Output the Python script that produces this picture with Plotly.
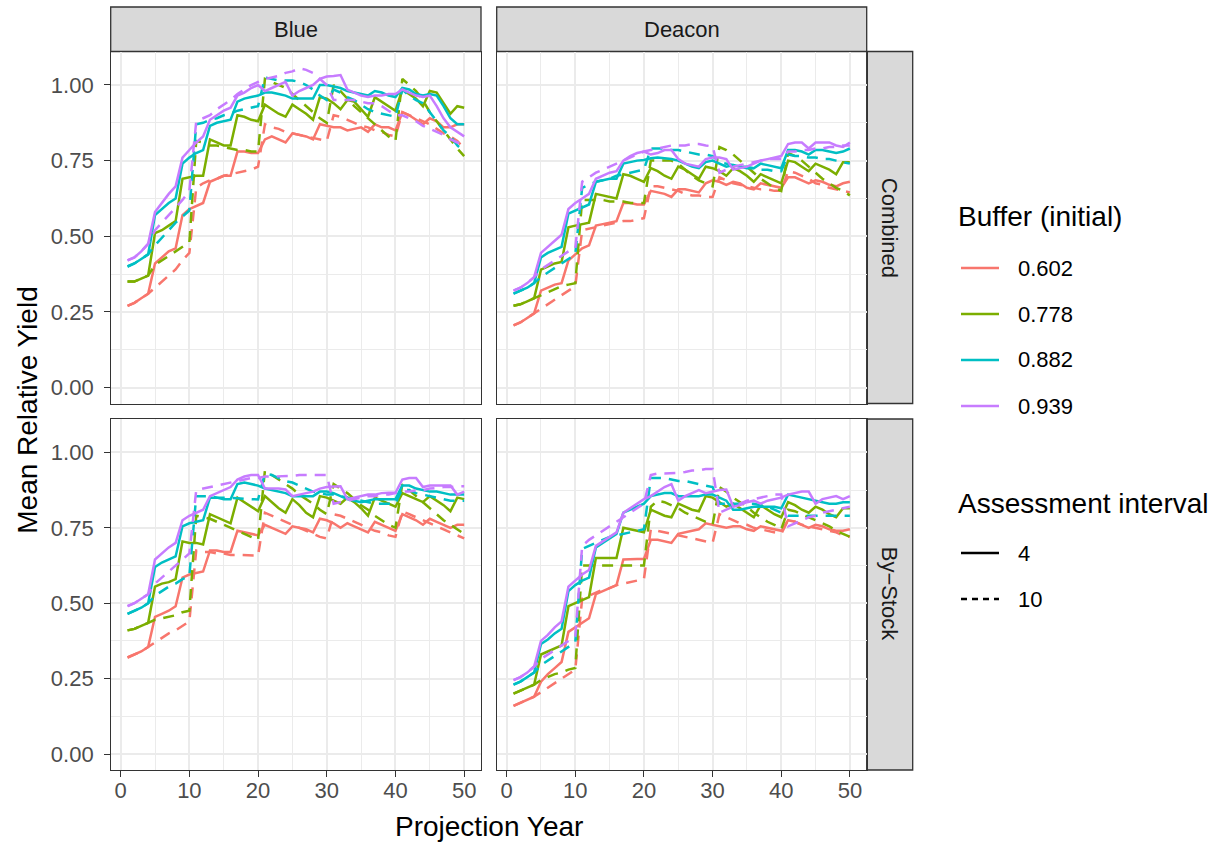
import plotly.graph_objects as go

W, H = 1228, 843

years = list(range(1, 51))
buffers = ["0.602", "0.778", "0.882", "0.939"]
colors = ["#F8766D", "#7CAE00", "#00BFC4", "#C77CFF"]
intervals = ["4", "10"]
stocks = ["Blue", "Deacon"]
methods = ["Combined", "By\u2212Stock"]
x_ticks = [0, 10, 20, 30, 40, 50]
y_ticks = [0.0, 0.25, 0.5, 0.75, 1.0]
y_tick_labels = ["0.00", "0.25", "0.50", "0.75", "1.00"]

# ---------------- Blue / Combined ----------------
bc_602_i4 = [0.27,0.28,0.295,0.31,0.41,0.43,0.45,0.46,0.57,0.59,
             0.60,0.61,0.68,0.69,0.70,0.70,0.78,0.78,0.775,0.775,
             0.82,0.83,0.82,0.81,0.84,0.835,0.83,0.82,0.87,0.865,
             0.86,0.86,0.85,0.855,0.86,0.845,0.87,0.86,0.86,0.85,
             0.91,0.90,0.885,0.87,0.89,0.88,0.86,0.86,0.87,0.87]
bc_602_i10 = [0.27,0.28,0.295,0.31,0.33,0.35,0.37,0.39,0.42,0.445,
              0.66,0.675,0.685,0.69,0.70,0.705,0.71,0.715,0.72,0.73,
              0.87,0.86,0.855,0.845,0.84,0.835,0.83,0.825,0.82,0.815,
              0.90,0.895,0.885,0.875,0.865,0.86,0.85,0.845,0.835,0.83,
              0.91,0.90,0.89,0.88,0.87,0.855,0.84,0.83,0.815,0.79]
bc_778_i4 = [0.35,0.35,0.36,0.37,0.51,0.52,0.535,0.55,0.69,0.695,
             0.70,0.70,0.82,0.81,0.80,0.80,0.90,0.895,0.885,0.88,
             0.935,0.92,0.905,0.895,0.935,0.92,0.905,0.885,0.96,0.955,
             0.94,0.92,0.95,0.945,0.92,0.895,0.96,0.945,0.93,0.915,
             0.985,0.97,0.955,0.93,0.98,0.975,0.94,0.905,0.93,0.925]
bc_778_i10 = [0.35,0.35,0.36,0.37,0.405,0.42,0.435,0.45,0.465,0.48,
              0.815,0.81,0.80,0.80,0.795,0.79,0.785,0.785,0.78,0.78,
              1.02,1.01,1.0,0.99,0.97,0.95,0.93,0.91,0.89,0.875,
              1.0,0.98,0.955,0.93,0.91,0.89,0.87,0.85,0.83,0.815,
              1.02,1.0,0.98,0.95,0.91,0.88,0.85,0.82,0.79,0.765]
bc_882_i4 = [0.40,0.41,0.425,0.44,0.57,0.59,0.61,0.625,0.74,0.76,
             0.775,0.785,0.865,0.875,0.88,0.885,0.945,0.955,0.96,0.965,
             0.975,0.975,0.97,0.965,0.955,0.955,0.955,0.955,1.0,1.0,
             0.995,0.99,0.98,0.975,0.97,0.965,0.98,0.975,0.965,0.96,
             0.99,0.985,0.97,0.965,0.97,0.965,0.93,0.89,0.87,0.87]
bc_882_i10 = [0.40,0.41,0.425,0.44,0.47,0.495,0.52,0.545,0.565,0.585,
              0.87,0.875,0.885,0.89,0.90,0.905,0.915,0.92,0.925,0.93,
              1.025,1.02,1.015,1.015,1.015,1.01,1.0,0.985,0.965,0.95,
              0.985,0.975,0.96,0.95,0.935,0.92,0.91,0.905,0.90,0.895,
              0.985,0.965,0.95,0.94,0.91,0.88,0.85,0.83,0.80,0.78]
bc_939_i4 = [0.42,0.43,0.45,0.475,0.58,0.61,0.64,0.665,0.76,0.785,
             0.81,0.83,0.885,0.90,0.915,0.925,0.965,0.975,0.99,1.0,
             0.98,0.99,1.0,1.01,0.965,0.98,0.99,1.0,1.02,1.028,
             1.03,1.033,0.985,0.975,0.965,0.96,0.965,0.965,0.97,0.97,
             0.985,0.975,0.965,0.96,0.965,0.93,0.89,0.86,0.845,0.83]
bc_939_i10 = [0.42,0.43,0.45,0.475,0.52,0.545,0.57,0.595,0.62,0.65,
              0.88,0.89,0.90,0.92,0.935,0.95,0.97,0.985,1.0,1.01,
              1.02,1.025,1.03,1.04,1.045,1.055,1.05,1.04,1.02,1.0,
              0.95,0.95,0.95,0.95,0.945,0.94,0.94,0.93,0.915,0.90,
              0.90,0.89,0.88,0.865,0.855,0.845,0.835,0.82,0.81,0.80]

# ---------------- Deacon / Combined ----------------
dc_602_i4 = [0.205,0.215,0.23,0.245,0.32,0.33,0.34,0.345,0.42,0.44,
             0.46,0.47,0.535,0.54,0.545,0.55,0.61,0.61,0.605,0.605,
             0.65,0.645,0.64,0.63,0.655,0.655,0.65,0.645,0.675,0.685,
             0.68,0.67,0.68,0.675,0.66,0.655,0.675,0.67,0.665,0.66,
             0.695,0.695,0.685,0.675,0.685,0.68,0.67,0.665,0.675,0.68]
dc_602_i10 = [0.205,0.215,0.23,0.245,0.26,0.275,0.29,0.305,0.32,0.335,
              0.52,0.525,0.53,0.535,0.54,0.545,0.55,0.55,0.555,0.56,
              0.665,0.665,0.66,0.655,0.65,0.64,0.635,0.635,0.63,0.63,
              0.695,0.685,0.675,0.67,0.665,0.66,0.655,0.655,0.65,0.65,
              0.715,0.71,0.70,0.69,0.675,0.67,0.66,0.655,0.65,0.645]
dc_778_i4 = [0.27,0.275,0.285,0.295,0.39,0.40,0.41,0.415,0.53,0.535,
             0.54,0.545,0.64,0.635,0.63,0.625,0.705,0.70,0.69,0.68,
             0.725,0.715,0.70,0.69,0.73,0.72,0.705,0.69,0.73,0.725,
             0.715,0.70,0.725,0.715,0.70,0.68,0.705,0.695,0.685,0.675,
             0.75,0.745,0.73,0.715,0.74,0.73,0.72,0.705,0.745,0.745]
dc_778_i10 = [0.27,0.275,0.285,0.295,0.305,0.315,0.325,0.335,0.34,0.345,
              0.62,0.62,0.62,0.62,0.615,0.615,0.615,0.61,0.61,0.61,
              0.75,0.75,0.752,0.75,0.74,0.72,0.70,0.685,0.675,0.665,
              0.795,0.785,0.77,0.75,0.73,0.71,0.69,0.675,0.66,0.65,
              0.775,0.765,0.75,0.73,0.71,0.69,0.675,0.66,0.65,0.635]
dc_882_i4 = [0.31,0.32,0.33,0.345,0.43,0.445,0.455,0.465,0.575,0.585,
             0.595,0.605,0.68,0.685,0.69,0.69,0.74,0.745,0.75,0.752,
             0.758,0.76,0.758,0.755,0.75,0.74,0.73,0.725,0.745,0.75,
             0.74,0.73,0.735,0.73,0.725,0.725,0.74,0.735,0.73,0.725,
             0.785,0.785,0.78,0.77,0.785,0.785,0.78,0.775,0.78,0.79]
dc_882_i10 = [0.31,0.32,0.33,0.345,0.365,0.38,0.395,0.41,0.425,0.44,
              0.66,0.67,0.68,0.685,0.69,0.70,0.705,0.71,0.715,0.72,
              0.79,0.79,0.79,0.785,0.785,0.78,0.775,0.77,0.77,0.765,
              0.745,0.74,0.735,0.73,0.73,0.725,0.72,0.72,0.715,0.715,
              0.77,0.765,0.765,0.76,0.76,0.755,0.755,0.75,0.745,0.74]
dc_939_i4 = [0.32,0.33,0.345,0.365,0.445,0.465,0.485,0.505,0.59,0.61,
             0.625,0.64,0.69,0.70,0.71,0.715,0.75,0.765,0.775,0.78,
             0.77,0.775,0.785,0.785,0.755,0.74,0.735,0.73,0.755,0.76,
             0.76,0.755,0.72,0.725,0.73,0.74,0.75,0.755,0.76,0.765,
             0.805,0.81,0.81,0.79,0.81,0.81,0.81,0.80,0.795,0.81]
dc_939_i10 = [0.32,0.33,0.345,0.365,0.39,0.405,0.42,0.435,0.45,0.46,
              0.68,0.695,0.71,0.72,0.73,0.74,0.75,0.76,0.77,0.78,
              0.785,0.79,0.795,0.80,0.80,0.80,0.805,0.805,0.80,0.797,
              0.71,0.72,0.73,0.735,0.74,0.745,0.75,0.755,0.755,0.755,
              0.78,0.78,0.785,0.785,0.79,0.79,0.795,0.795,0.80,0.80]

# ---------------- Blue / By-Stock ----------------
bs_602_i4 = [0.32,0.33,0.34,0.355,0.455,0.465,0.475,0.49,0.585,0.595,
             0.60,0.605,0.675,0.675,0.67,0.67,0.74,0.735,0.73,0.725,
             0.76,0.75,0.74,0.73,0.755,0.75,0.745,0.735,0.78,0.775,
             0.765,0.75,0.765,0.755,0.745,0.735,0.77,0.76,0.75,0.74,
             0.795,0.785,0.775,0.76,0.78,0.77,0.76,0.75,0.76,0.76]
bs_602_i10 = [0.32,0.33,0.34,0.355,0.37,0.385,0.40,0.41,0.425,0.44,
              0.675,0.67,0.67,0.665,0.665,0.66,0.66,0.66,0.66,0.658,
              0.80,0.79,0.78,0.77,0.76,0.75,0.74,0.73,0.72,0.715,
              0.795,0.79,0.78,0.77,0.76,0.75,0.74,0.735,0.725,0.72,
              0.805,0.795,0.785,0.775,0.765,0.755,0.745,0.735,0.725,0.715]
bs_778_i4 = [0.41,0.415,0.425,0.435,0.555,0.565,0.57,0.58,0.705,0.70,
             0.70,0.695,0.795,0.785,0.775,0.765,0.85,0.835,0.82,0.805,
             0.855,0.835,0.815,0.80,0.845,0.825,0.80,0.785,0.855,0.85,
             0.84,0.83,0.85,0.835,0.815,0.79,0.85,0.84,0.83,0.82,
             0.865,0.855,0.845,0.835,0.855,0.84,0.825,0.805,0.85,0.845]
bs_778_i10 = [0.41,0.415,0.425,0.435,0.445,0.45,0.455,0.46,0.47,0.475,
              0.79,0.785,0.78,0.77,0.76,0.75,0.74,0.73,0.72,0.71,
              0.94,0.925,0.91,0.895,0.88,0.86,0.845,0.83,0.81,0.795,
              0.895,0.88,0.865,0.845,0.825,0.81,0.79,0.775,0.76,0.75,
              0.895,0.875,0.855,0.835,0.815,0.795,0.775,0.76,0.745,0.73]
bs_882_i4 = [0.465,0.475,0.485,0.50,0.62,0.635,0.645,0.655,0.755,0.765,
             0.77,0.775,0.85,0.85,0.845,0.845,0.895,0.90,0.895,0.89,
             0.88,0.875,0.87,0.865,0.855,0.855,0.855,0.855,0.87,0.87,
             0.865,0.855,0.845,0.84,0.835,0.84,0.845,0.845,0.845,0.845,
             0.89,0.89,0.88,0.875,0.87,0.87,0.865,0.86,0.86,0.86]
bs_882_i10 = [0.465,0.475,0.485,0.50,0.525,0.54,0.555,0.565,0.58,0.59,
              0.855,0.855,0.855,0.85,0.85,0.85,0.848,0.846,0.845,0.844,
              0.93,0.925,0.915,0.905,0.90,0.89,0.88,0.87,0.865,0.86,
              0.86,0.855,0.85,0.845,0.84,0.835,0.83,0.83,0.83,0.83,
              0.88,0.875,0.865,0.86,0.855,0.85,0.845,0.84,0.84,0.84]
bs_939_i4 = [0.49,0.50,0.515,0.53,0.645,0.665,0.685,0.70,0.775,0.79,
             0.80,0.81,0.855,0.865,0.875,0.885,0.91,0.92,0.925,0.925,
             0.88,0.88,0.88,0.877,0.855,0.86,0.865,0.87,0.88,0.885,
             0.887,0.888,0.845,0.85,0.855,0.86,0.86,0.865,0.866,0.866,
             0.91,0.915,0.915,0.885,0.89,0.89,0.89,0.89,0.86,0.87]
bs_939_i10 = [0.49,0.50,0.515,0.53,0.565,0.585,0.605,0.625,0.645,0.665,
              0.875,0.88,0.885,0.89,0.895,0.90,0.905,0.91,0.915,0.915,
              0.92,0.92,0.92,0.92,0.922,0.925,0.925,0.925,0.925,0.925,
              0.83,0.835,0.84,0.845,0.85,0.855,0.855,0.86,0.86,0.865,
              0.87,0.87,0.875,0.875,0.88,0.882,0.885,0.885,0.888,0.888]

# ---------------- Deacon / By-Stock ----------------
ds_602_i4 = [0.16,0.17,0.18,0.19,0.24,0.265,0.285,0.305,0.405,0.42,
             0.435,0.45,0.53,0.54,0.55,0.56,0.645,0.647,0.647,0.647,
             0.71,0.71,0.705,0.70,0.73,0.735,0.74,0.745,0.765,0.76,
             0.755,0.75,0.755,0.755,0.745,0.74,0.755,0.75,0.745,0.74,
             0.775,0.77,0.76,0.75,0.76,0.755,0.745,0.74,0.74,0.745]
ds_602_i10 = [0.16,0.17,0.18,0.19,0.205,0.22,0.235,0.25,0.265,0.28,
              0.515,0.525,0.535,0.545,0.55,0.56,0.565,0.57,0.575,0.58,
              0.745,0.74,0.735,0.73,0.725,0.72,0.715,0.71,0.705,0.70,
              0.795,0.785,0.775,0.765,0.76,0.75,0.745,0.74,0.735,0.73,
              0.775,0.77,0.76,0.755,0.75,0.745,0.74,0.735,0.725,0.72]
ds_778_i4 = [0.20,0.21,0.22,0.23,0.33,0.34,0.35,0.36,0.49,0.50,
             0.51,0.52,0.65,0.65,0.65,0.65,0.75,0.745,0.74,0.735,
             0.81,0.80,0.79,0.785,0.83,0.82,0.81,0.805,0.855,0.85,
             0.835,0.82,0.83,0.815,0.80,0.785,0.825,0.81,0.795,0.785,
             0.835,0.825,0.81,0.80,0.82,0.81,0.795,0.785,0.815,0.815]
ds_778_i10 = [0.20,0.21,0.22,0.23,0.245,0.255,0.265,0.27,0.28,0.285,
              0.625,0.625,0.625,0.625,0.625,0.625,0.625,0.625,0.625,0.625,
              0.82,0.84,0.835,0.825,0.815,0.80,0.79,0.78,0.77,0.76,
              0.885,0.87,0.85,0.835,0.82,0.80,0.785,0.77,0.76,0.745,
              0.81,0.805,0.795,0.785,0.775,0.765,0.755,0.74,0.73,0.72]
ds_882_i4 = [0.23,0.24,0.255,0.27,0.365,0.38,0.40,0.415,0.54,0.56,
             0.575,0.585,0.685,0.70,0.715,0.73,0.80,0.81,0.82,0.83,
             0.855,0.86,0.865,0.865,0.855,0.855,0.855,0.855,0.86,0.86,
             0.85,0.84,0.81,0.81,0.815,0.82,0.82,0.82,0.82,0.815,
             0.86,0.855,0.85,0.845,0.84,0.835,0.83,0.83,0.835,0.835]
ds_882_i10 = [0.23,0.24,0.255,0.27,0.295,0.31,0.325,0.34,0.355,0.37,
              0.68,0.69,0.70,0.71,0.72,0.725,0.73,0.735,0.74,0.745,
              0.915,0.915,0.915,0.91,0.905,0.905,0.90,0.895,0.89,0.885,
              0.83,0.83,0.83,0.83,0.83,0.83,0.825,0.82,0.81,0.80,
              0.79,0.79,0.79,0.79,0.79,0.79,0.79,0.79,0.79,0.79]
ds_939_i4 = [0.245,0.255,0.27,0.29,0.375,0.395,0.42,0.44,0.555,0.575,
             0.595,0.61,0.69,0.705,0.72,0.735,0.80,0.815,0.83,0.845,
             0.855,0.87,0.885,0.895,0.84,0.855,0.865,0.875,0.865,0.87,
             0.875,0.877,0.82,0.825,0.835,0.84,0.83,0.84,0.845,0.85,
             0.86,0.865,0.87,0.87,0.83,0.845,0.85,0.855,0.845,0.855]
ds_939_i10 = [0.245,0.255,0.27,0.29,0.315,0.33,0.345,0.36,0.375,0.39,
              0.69,0.71,0.725,0.74,0.755,0.77,0.785,0.80,0.815,0.83,
              0.925,0.93,0.93,0.93,0.932,0.935,0.94,0.94,0.945,0.945,
              0.80,0.81,0.82,0.83,0.84,0.845,0.85,0.855,0.86,0.86,
              0.755,0.765,0.775,0.785,0.79,0.80,0.805,0.81,0.815,0.82]

panel_data = {
    (0, 0): [[bc_602_i4, bc_602_i10], [bc_778_i4, bc_778_i10], [bc_882_i4, bc_882_i10], [bc_939_i4, bc_939_i10]],
    (0, 1): [[dc_602_i4, dc_602_i10], [dc_778_i4, dc_778_i10], [dc_882_i4, dc_882_i10], [dc_939_i4, dc_939_i10]],
    (1, 0): [[bs_602_i4, bs_602_i10], [bs_778_i4, bs_778_i10], [bs_882_i4, bs_882_i10], [bs_939_i4, bs_939_i10]],
    (1, 1): [[ds_602_i4, ds_602_i10], [ds_778_i4, ds_778_i10], [ds_882_i4, ds_882_i10], [ds_939_i4, ds_939_i10]],
}

# ---------------- layout geometry (pixels) ----------------
FONT = "Liberation Sans, Arial, sans-serif"
col_px = [(110.7, 481.0), (496.7, 866.7)]
row_px = [(51.5, 403.5), (419.0, 770.0)]
strip_top = (7.0, 51.5)
strip_right = (866.7, 912.7)
XR = [-1.45, 52.45]
YR = [-0.0529, 1.1107]
LW = 2.5
DASH = "11px,8px"
BORDER = "#333333"


def px(x):
    return x / W


def py(y):
    return 1 - y / H


fig = go.Figure()
layout = {}
idx = 0
for r in range(2):
    for c in range(2):
        idx += 1
        sx = "" if idx == 1 else str(idx)
        xa, ya = "x" + sx, "y" + sx
        for b in range(4):
            for i in range(2):
                fig.add_trace(go.Scatter(
                    x=years, y=panel_data[(r, c)][b][i], mode="lines",
                    xaxis=xa, yaxis=ya, showlegend=False,
                    line=dict(color=colors[b], width=LW,
                              dash="solid" if i == 0 else DASH),
                    hoverinfo="skip"))
        show_x = (r == 1)
        show_y = (c == 0)
        layout["xaxis" + sx] = dict(
            domain=[px(col_px[c][0]), px(col_px[c][1])], anchor=ya,
            range=XR, tickmode="array", tickvals=x_ticks,
            ticktext=[str(t) for t in x_ticks],
            showticklabels=show_x, ticks="outside" if show_x else "",
            ticklen=5.5, tickwidth=1.2, tickcolor=BORDER,
            ticklabelstandoff=-5,
            tickfont=dict(family=FONT, size=22, color="#4D4D4D"),
            showgrid=True, gridcolor="#EBEBEB", gridwidth=1.5,
            minor=dict(tickmode="array", tickvals=[5, 15, 25, 35, 45],
                       showgrid=True, gridcolor="#EBEBEB", gridwidth=0.8),
            zeroline=False, showline=True, mirror=True,
            linecolor=BORDER, linewidth=1.3, fixedrange=True)
        layout["yaxis" + sx] = dict(
            domain=[py(row_px[r][1]), py(row_px[r][0])], anchor=xa,
            range=YR, tickmode="array", tickvals=y_ticks,
            ticktext=y_tick_labels,
            showticklabels=show_y, ticks="outside" if show_y else "",
            ticklen=5.5, tickwidth=1.2, tickcolor=BORDER,
            ticklabelstandoff=6,
            tickfont=dict(family=FONT, size=22, color="#4D4D4D"),
            showgrid=True, gridcolor="#EBEBEB", gridwidth=1.5,
            minor=dict(tickmode="array", tickvals=[0.125, 0.375, 0.625, 0.875],
                       showgrid=True, gridcolor="#EBEBEB", gridwidth=0.8),
            zeroline=False, showline=True, mirror=True,
            linecolor=BORDER, linewidth=1.3, fixedrange=True)

shapes = []
annotations = []
# top strips
for c in range(2):
    shapes.append(dict(type="rect", xref="paper", yref="paper",
                       x0=px(col_px[c][0]), x1=px(col_px[c][1]),
                       y0=py(strip_top[1]), y1=py(strip_top[0]),
                       fillcolor="#D9D9D9", line=dict(color=BORDER, width=1.3),
                       layer="below"))
    annotations.append(dict(text=stocks[c], xref="paper", yref="paper",
                            x=px((col_px[c][0] + col_px[c][1]) / 2),
                            y=py((strip_top[0] + strip_top[1]) / 2),
                            showarrow=False, xanchor="center", yanchor="middle",
                            font=dict(family=FONT, size=22, color="#1A1A1A")))
# right strips
for r in range(2):
    shapes.append(dict(type="rect", xref="paper", yref="paper",
                       x0=px(strip_right[0]), x1=px(strip_right[1]),
                       y0=py(row_px[r][1]), y1=py(row_px[r][0]),
                       fillcolor="#D9D9D9", line=dict(color=BORDER, width=1.3),
                       layer="below"))
    annotations.append(dict(text=methods[r], xref="paper", yref="paper",
                            x=px((strip_right[0] + strip_right[1]) / 2),
                            y=py((row_px[r][0] + row_px[r][1]) / 2),
                            textangle=90, showarrow=False,
                            xanchor="center", yanchor="middle",
                            font=dict(family=FONT, size=22, color="#1A1A1A")))

# axis titles
annotations.append(dict(text="Projection Year", xref="paper", yref="paper",
                        x=px((col_px[0][0] + col_px[1][1]) / 2), y=py(826),
                        showarrow=False, xanchor="center", yanchor="middle",
                        font=dict(family=FONT, size=28, color="black")))
annotations.append(dict(text="Mean Relative Yield", xref="paper", yref="paper",
                        x=px(28), y=py((row_px[0][0] + row_px[1][1]) / 2),
                        textangle=-90, showarrow=False,
                        xanchor="center", yanchor="middle",
                        font=dict(family=FONT, size=28, color="black")))

# manual legends
LEG_X = 956
KEY_X0, KEY_X1 = 961, 999
TXT_X = 1016
annotations.append(dict(text="Buffer (initial)", xref="paper", yref="paper",
                        x=px(LEG_X), y=py(217), showarrow=False,
                        xanchor="left", yanchor="middle",
                        font=dict(family=FONT, size=28, color="black")))
buf_y = [268, 314, 360, 406]
for b in range(4):
    shapes.append(dict(type="line", xref="paper", yref="paper",
                       x0=px(KEY_X0), x1=px(KEY_X1), y0=py(buf_y[b]), y1=py(buf_y[b]),
                       line=dict(color=colors[b], width=LW)))
    annotations.append(dict(text=buffers[b], xref="paper", yref="paper",
                            x=px(TXT_X), y=py(buf_y[b]), showarrow=False,
                            xanchor="left", yanchor="middle",
                            font=dict(family=FONT, size=22, color="black")))
annotations.append(dict(text="Assessment interval", xref="paper", yref="paper",
                        x=px(LEG_X), y=py(503), showarrow=False,
                        xanchor="left", yanchor="middle",
                        font=dict(family=FONT, size=28, color="black")))
int_y = [553, 599]
for i in range(2):
    shapes.append(dict(type="line", xref="paper", yref="paper",
                       x0=px(KEY_X0), x1=px(KEY_X1), y0=py(int_y[i]), y1=py(int_y[i]),
                       line=dict(color="black", width=LW,
                                 dash="solid" if i == 0 else "6px,5px")))
    annotations.append(dict(text=intervals[i], xref="paper", yref="paper",
                            x=px(TXT_X), y=py(int_y[i]), showarrow=False,
                            xanchor="left", yanchor="middle",
                            font=dict(family=FONT, size=22, color="black")))

fig.update_layout(
    width=W, height=H, autosize=False,
    margin=dict(l=0, r=0, t=0, b=0, pad=0),
    paper_bgcolor="white", plot_bgcolor="white",
    showlegend=False, shapes=shapes, annotations=annotations,
    font=dict(family=FONT),
    **layout)

fig.write_html(
    "out.html", include_plotlyjs=True,
    config={"displayModeBar": False},
    post_script="document.body.style.margin='0';document.body.style.padding='0';"
                "document.body.style.overflow='hidden';")
